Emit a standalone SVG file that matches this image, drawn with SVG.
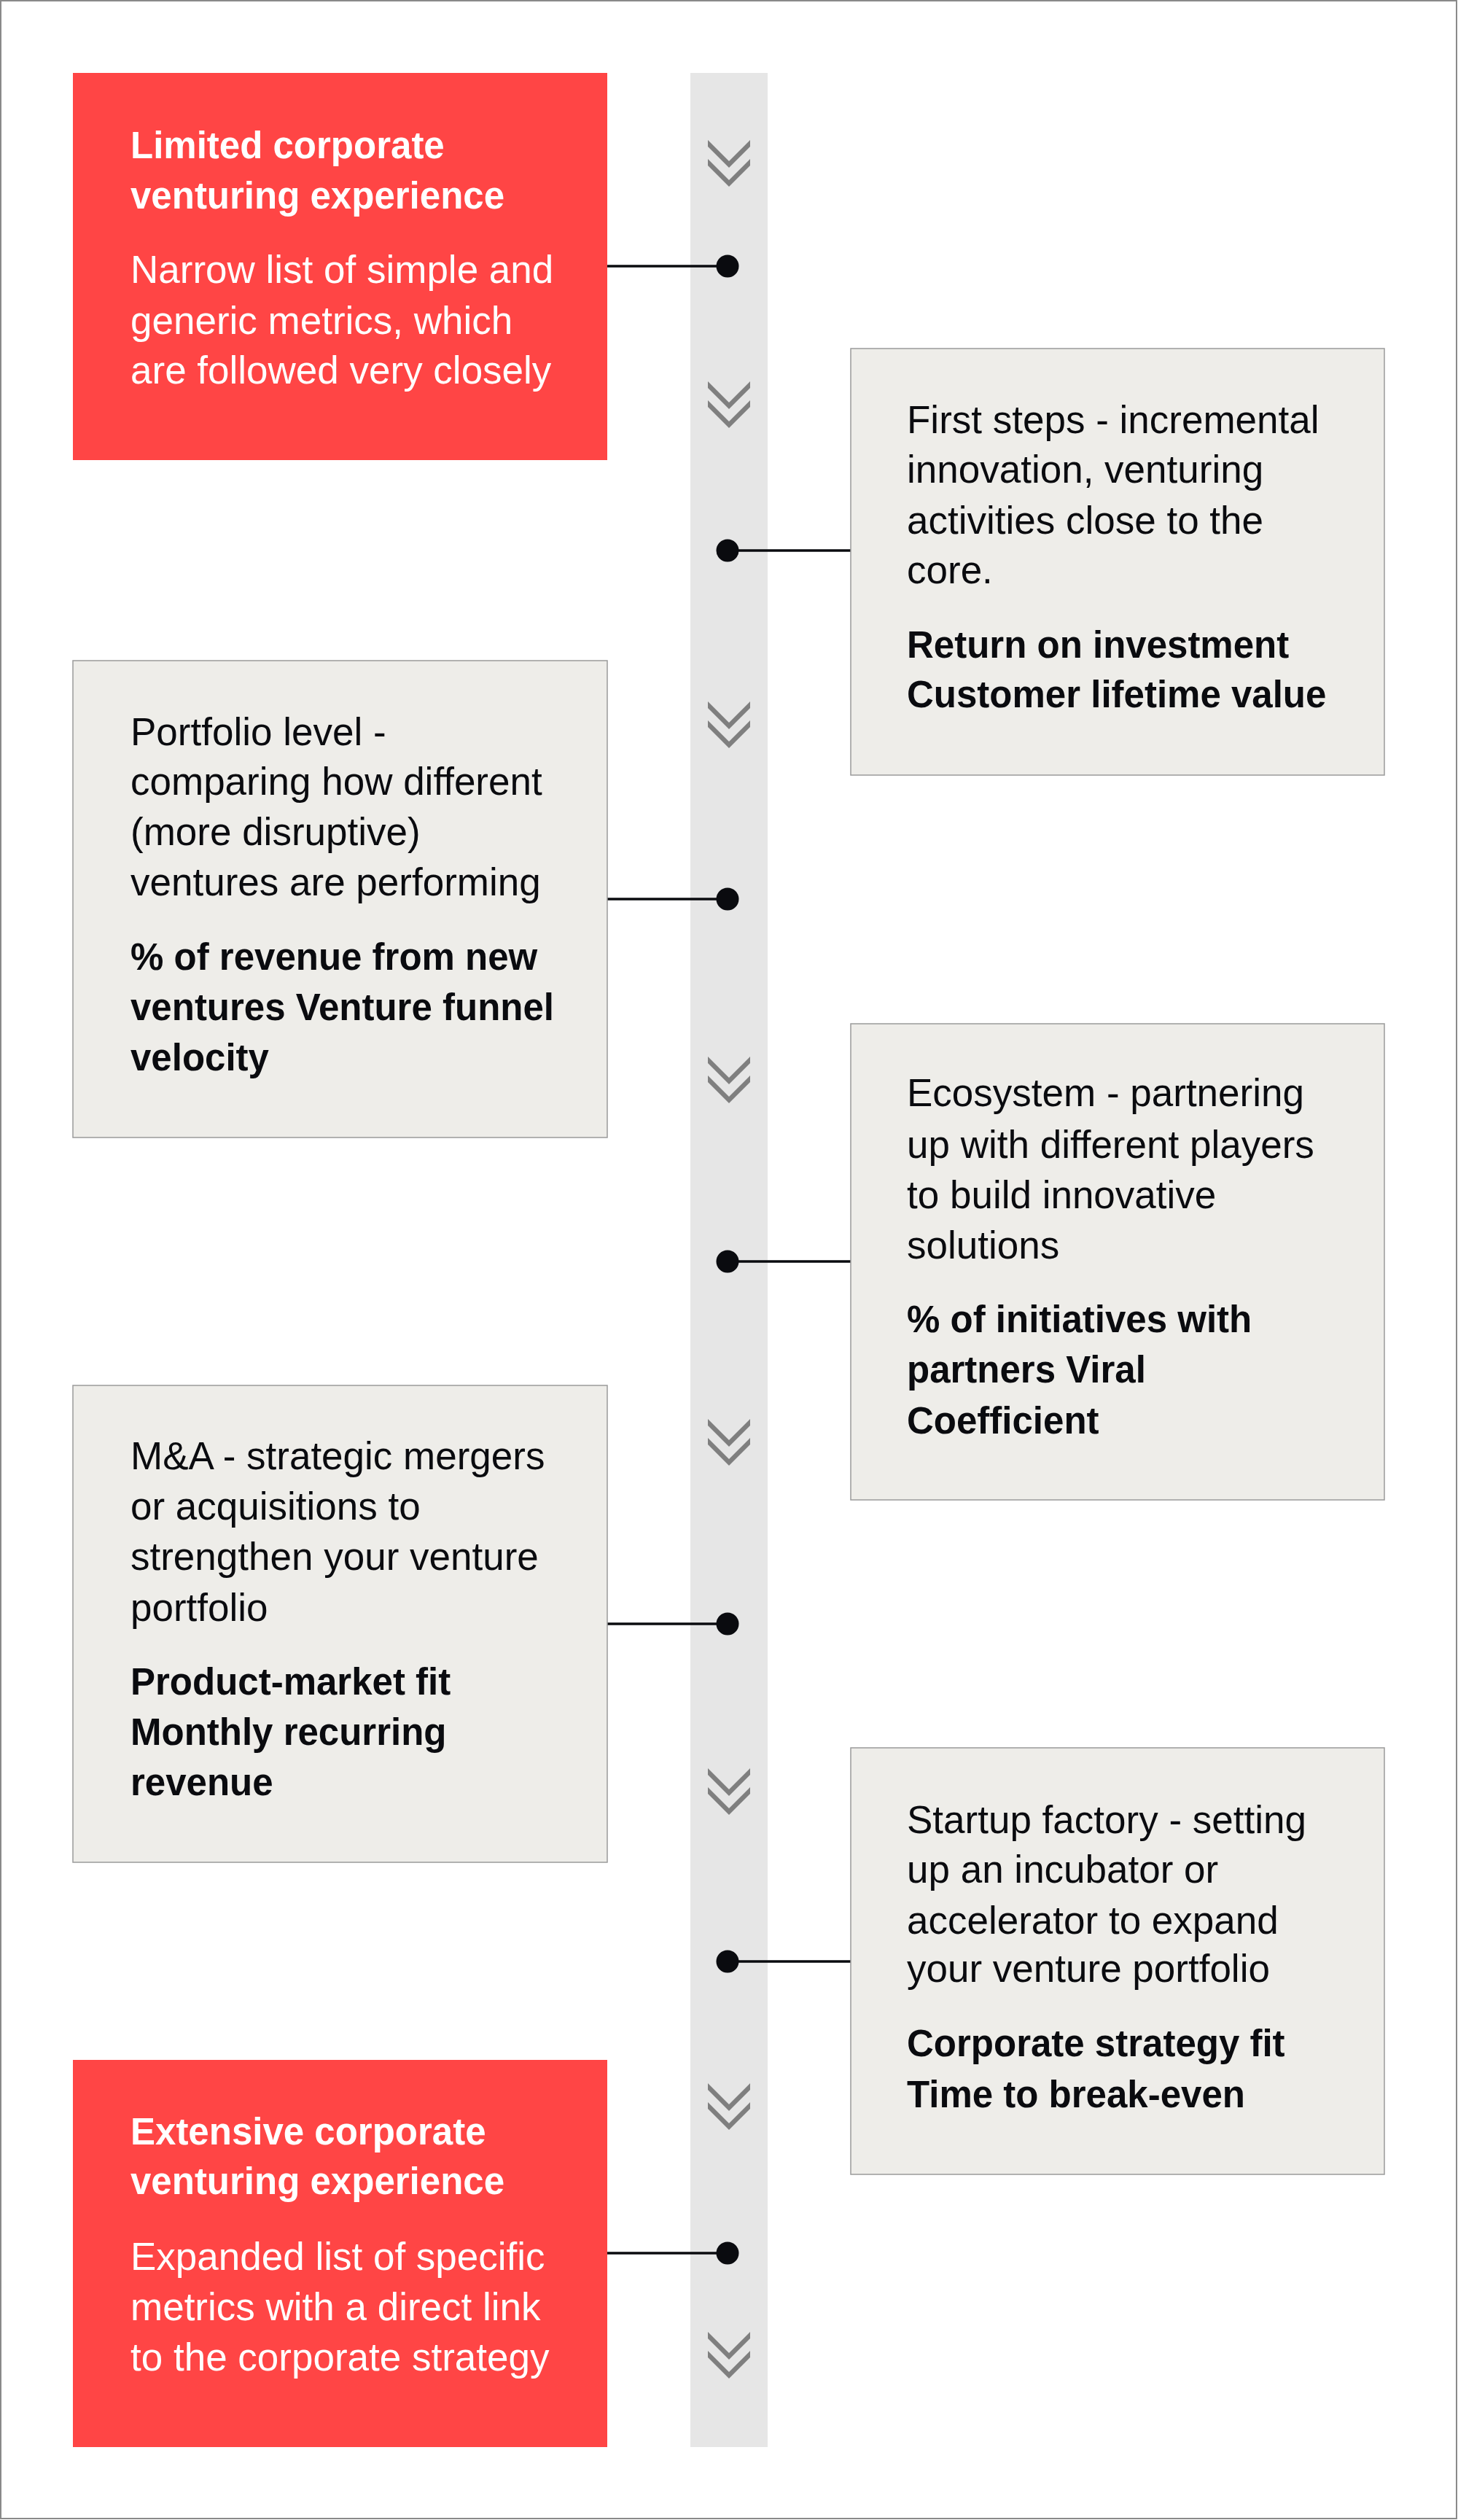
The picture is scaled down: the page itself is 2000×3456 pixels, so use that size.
<svg xmlns="http://www.w3.org/2000/svg" width="2000" height="3456" viewBox="0 0 2000 3456">
<defs>
<style>
.frame{fill:#ffffff;stroke:#8a8a8a;stroke-width:2}
.bar{fill:#e6e6e6}
.red{fill:#ff4545}
.grey{fill:#eeede9;stroke:#9a9a9a;stroke-width:1.5}
.t{font-family:"Liberation Sans",Arial,sans-serif;font-size:53px}
.b{font-family:"Liberation Sans",Arial,sans-serif;font-size:51px;font-weight:bold}
.w{fill:#ffffff}
.k{fill:#0a0b0f}
.conn{stroke:#0a0b0f;stroke-width:3.5;fill:none}
.dot{fill:#0a0b0f}
.chev{fill:#7f7f7f}
</style>
<g id="chevron">
<polygon points="971,0 1000,29 1029,0 1029,9 1000,38 971,9"/>
<polygon points="971,26 1000,55 1029,26 1029,35 1000,64 971,35"/>
</g>
</defs>
<rect class="frame" x="1" y="1" width="1997" height="3453"/>
<rect id="timeline" class="bar" x="947" y="100" width="106" height="3256"/>
<g id="chevrons" class="chev">
<use href="#chevron" y="192"/>
<use href="#chevron" y="523"/>
<use href="#chevron" y="962"/>
<use href="#chevron" y="1449"/>
<use href="#chevron" y="1946"/>
<use href="#chevron" y="2425"/>
<use href="#chevron" y="2857"/>
<use href="#chevron" y="3198"/>
</g>
<g id="connectors">
<line class="conn" x1="833" y1="365" x2="998" y2="365"/>
<circle class="dot" cx="998" cy="365" r="15.5"/>
<line class="conn" x1="998" y1="755" x2="1167" y2="755"/>
<circle class="dot" cx="998" cy="755" r="15.5"/>
<line class="conn" x1="833" y1="1233" x2="998" y2="1233"/>
<circle class="dot" cx="998" cy="1233" r="15.5"/>
<line class="conn" x1="998" y1="1730" x2="1167" y2="1730"/>
<circle class="dot" cx="998" cy="1730" r="15.5"/>
<line class="conn" x1="833" y1="2227" x2="998" y2="2227"/>
<circle class="dot" cx="998" cy="2227" r="15.5"/>
<line class="conn" x1="998" y1="2690" x2="1167" y2="2690"/>
<circle class="dot" cx="998" cy="2690" r="15.5"/>
<line class="conn" x1="833" y1="3090" x2="998" y2="3090"/>
<circle class="dot" cx="998" cy="3090" r="15.5"/>
</g>
<g id="limited">
<rect class="red" x="100" y="100" width="733" height="531"/>
<text class="b w" x="179" y="217">Limited corporate</text>
<text class="b w" x="179" y="286">venturing experience</text>
<text class="t w" x="179" y="388">Narrow list of simple and</text>
<text class="t w" x="179" y="458">generic metrics, which</text>
<text class="t w" x="179" y="526">are followed very closely</text>
</g>
<g id="first-steps">
<rect class="grey" x="1167" y="478" width="732" height="585"/>
<text class="t k" x="1244" y="594">First steps - incremental</text>
<text class="t k" x="1244" y="662">innovation, venturing</text>
<text class="t k" x="1244" y="732">activities close to the</text>
<text class="t k" x="1244" y="800">core.</text>
<text class="b k" x="1244" y="902">Return on investment</text>
<text class="b k" x="1244" y="970">Customer lifetime value</text>
</g>
<g id="portfolio">
<rect class="grey" x="100" y="906" width="733" height="654"/>
<text class="t k" x="179" y="1022">Portfolio level -</text>
<text class="t k" x="179" y="1090">comparing how different</text>
<text class="t k" x="179" y="1159">(more disruptive)</text>
<text class="t k" x="179" y="1228">ventures are performing</text>
<text class="b k" x="179" y="1330">% of revenue from new</text>
<text class="b k" x="179" y="1399">ventures Venture funnel</text>
<text class="b k" x="179" y="1468">velocity</text>
</g>
<g id="ecosystem">
<rect class="grey" x="1167" y="1404" width="732" height="653"/>
<text class="t k" x="1244" y="1517">Ecosystem - partnering</text>
<text class="t k" x="1244" y="1588">up with different players</text>
<text class="t k" x="1244" y="1657">to build innovative</text>
<text class="t k" x="1244" y="1726">solutions</text>
<text class="b k" x="1244" y="1827">% of initiatives with</text>
<text class="b k" x="1244" y="1896">partners Viral</text>
<text class="b k" x="1244" y="1966">Coefficient</text>
</g>
<g id="m-and-a">
<rect class="grey" x="100" y="1900" width="733" height="654"/>
<text class="t k" x="179" y="2015">M&amp;A - strategic mergers</text>
<text class="t k" x="179" y="2084">or acquisitions to</text>
<text class="t k" x="179" y="2153">strengthen your venture</text>
<text class="t k" x="179" y="2223">portfolio</text>
<text class="b k" x="179" y="2324">Product-market fit</text>
<text class="b k" x="179" y="2393">Monthly recurring</text>
<text class="b k" x="179" y="2462">revenue</text>
</g>
<g id="startup-factory">
<rect class="grey" x="1167" y="2397" width="732" height="585"/>
<text class="t k" x="1244" y="2514">Startup factory - setting</text>
<text class="t k" x="1244" y="2582">up an incubator or</text>
<text class="t k" x="1244" y="2652">accelerator to expand</text>
<text class="t k" x="1244" y="2718">your venture portfolio</text>
<text class="b k" x="1244" y="2820">Corporate strategy fit</text>
<text class="b k" x="1244" y="2890">Time to break-even</text>
</g>
<g id="extensive">
<rect class="red" x="100" y="2825" width="733" height="531"/>
<text class="b w" x="179" y="2941">Extensive corporate</text>
<text class="b w" x="179" y="3009">venturing experience</text>
<text class="t w" x="179" y="3113">Expanded list of specific</text>
<text class="t w" x="179" y="3182">metrics with a direct link</text>
<text class="t w" x="179" y="3251">to the corporate strategy</text>
</g>
</svg>
